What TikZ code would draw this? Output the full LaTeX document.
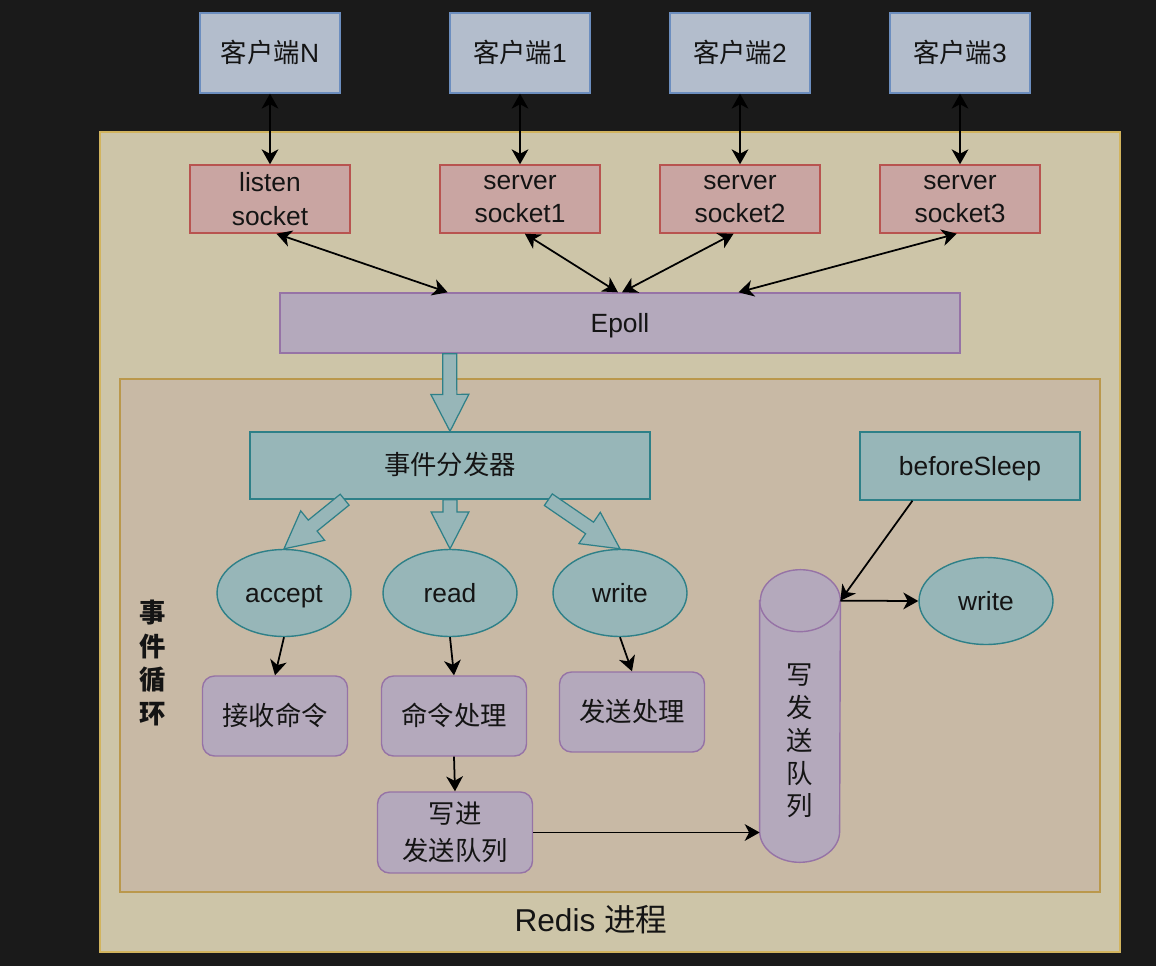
\documentclass[tikz,border=0pt]{standalone}
\usepackage{fontspec}
\setmainfont{Liberation Sans}
\newfontfamily\cjk{Noto Sans CJK SC}
\usetikzlibrary{calc,arrows.meta,shapes.geometric}
\newcommand\zh[1]{{\cjk #1}}
\definecolor{bgdark}{HTML}{1A1A1A}
\definecolor{redisfill}{HTML}{CDC5A8}
\definecolor{redisline}{HTML}{D2B45E}
\definecolor{loopfill}{HTML}{C8B9A5}
\definecolor{loopline}{HTML}{BA984C}
\definecolor{clientfill}{HTML}{B3BDCC}
\definecolor{clientline}{HTML}{6C8EBF}
\definecolor{sockfill}{HTML}{C9A5A2}
\definecolor{sockline}{HTML}{B85450}
\definecolor{purpfill}{HTML}{B4A9BC}
\definecolor{purpline}{HTML}{9673A6}
\definecolor{tealfill}{HTML}{97B6B8}
\definecolor{tealline}{HTML}{2E8088}
\definecolor{txt}{HTML}{141414}
\newcommand\fatarrow[2]{%
  \coordinate (fac) at ($(#2)!21pt!(#1)$);
  \filldraw[fat] ($(#1)!4pt!90:(#2)$) -- ($(fac)!4pt!90:(#2)$) -- ($(fac)!10.8pt!90:(#2)$)
    -- (#2) -- ($(fac)!10.8pt!-90:(#2)$) -- ($(fac)!4pt!-90:(#2)$) -- ($(#1)!4pt!-90:(#2)$) -- cycle;}
\begin{document}
\begin{tikzpicture}[x=0.02cm,y=-0.02cm,
  every node/.style={text=txt, font=\fontsize{15}{19}\selectfont, inner sep=0pt},
  one/.style={text height=10.5pt, text depth=0pt},
  client/.style={one, draw=clientline, fill=clientfill, line width=0.8pt, minimum width=2.8cm, minimum height=1.6cm},
  sock/.style={draw=sockline, fill=sockfill, line width=0.8pt, minimum width=3.2cm, minimum height=1.36cm, align=center},
  purp/.style={draw=purpline, fill=purpfill, line width=0.8pt},
  pbox/.style={purp, rounded corners=0.24cm, minimum width=2.9cm, minimum height=1.6cm, align=center},
  teal/.style={draw=tealline, fill=tealfill, line width=0.8pt},
  oval/.style={one, teal, ellipse, minimum width=2.68cm, minimum height=1.74cm},
  fat/.style={draw=tealline, fill=tealfill, line width=0.7pt, line join=miter},
  conn/.style={draw=black, line width=1pt, -{Stealth[length=8.5pt,width=9.5pt,inset=2.5pt]}},
  dconn/.style={draw=black, line width=1pt, {Stealth[length=8.5pt,width=9.5pt,inset=2.5pt]}-{Stealth[length=8.5pt,width=9.5pt,inset=2.5pt]}}
]
\fill[bgdark] (0,0) rectangle (1156,966);
% containers
\node[draw=redisline, fill=redisfill, line width=0.8pt, minimum width=20.4cm, minimum height=16.4cm] (redis) at (610,542) {};
\node[draw=loopline, fill=loopfill, line width=1.1pt, minimum width=19.6cm, minimum height=10.26cm] (loop) at (610,635.5) {};
\node[text height=12.6pt, text depth=0pt, font=\fontsize{18}{22}\selectfont] (rlabel) at (591,920) {Redis \zh{进程}};
\node[font=\cjk\bfseries\fontsize{15}{19.3}\selectfont, align=center] (evl) at (153,663) {事\\件\\循\\环};
% clients
\node[client] (cN) at (270,53) {\zh{客户端}N};
\node[client] (c1) at (520,53) {\zh{客户端}1};
\node[client] (c2) at (740,53) {\zh{客户端}2};
\node[client] (c3) at (960,53) {\zh{客户端}3};
% sockets
\node[sock] (sN) at (270,199) {listen\\socket};
\node[sock] (s1) at (520,199) {server\\socket1};
\node[sock] (s2) at (740,199) {server\\socket2};
\node[sock] (s3) at (960,199) {server\\socket3};
% epoll
\node[one, purp, minimum width=13.6cm, minimum height=1.2cm] (ep) at (620,323) {Epoll};
% dispatcher and beforeSleep
\node[one, teal, minimum width=8cm, minimum height=1.34cm] (disp) at (450,465.5) {\zh{事件分发器}};
\node[one, teal, minimum width=4.4cm, minimum height=1.36cm] (bs) at (970,466) {beforeSleep};
% ellipses
\node[oval] (acc) at (284,593) {accept};
\node[oval] (rd) at (450,593) {read};
\node[oval] (wr) at (620,593) {write};
\node[oval] (wr2) at (986,601) {write};
% boxes
\node[pbox, one] (recv) at (275,716) {\zh{接收命令}};
\node[pbox, one] (cmd) at (454,716) {\zh{命令处理}};
\node[pbox, one] (send) at (632,712) {\zh{发送处理}};
\node[pbox, minimum width=3.1cm, minimum height=1.62cm, font=\cjk\fontsize{15}{21}\selectfont] (wq) at (455,832.5) {写进\\发送队列};
% cylinder
\node[minimum width=1.6cm, minimum height=5.84cm] (q) at (800,716) {};
\draw[purp] ([yshift=-0.62cm]q.north west) -- ([yshift=0.62cm]q.south west)
  arc[start angle=180, end angle=360, x radius=0.8cm, y radius=0.62cm]
  -- ([yshift=-0.62cm]q.north east)
  arc[start angle=0, end angle=180, x radius=0.8cm, y radius=0.62cm] -- cycle;
\draw[draw=purpline, line width=0.8pt] ([yshift=-0.62cm]q.north west)
  arc[start angle=180, end angle=360, x radius=0.8cm, y radius=0.62cm];
\node[font=\cjk\fontsize{15}{18.7}\selectfont, align=center] (qtext) at (800,741) {写\\发\\送\\队\\列};
% client <-> socket
\draw[dconn] (cN.south) -- (sN.north);
\draw[dconn] (c1.south) -- (s1.north);
\draw[dconn] (c2.south) -- (s2.north);
\draw[dconn] (c3.south) -- (s3.north);
% socket <-> epoll
\coordinate (eN) at ($(ep.north west)!0.247!(ep.north east)$);
\coordinate (e1) at ($(ep.north west)!0.497!(ep.north east)$);
\coordinate (e2) at ($(ep.north west)!0.503!(ep.north east)$);
\coordinate (e3) at ($(ep.north west)!0.674!(ep.north east)$);
\coordinate (sNb) at ($(sN.south west)!0.54!(sN.south east)$);
\coordinate (s1b) at ($(s1.south west)!0.53!(s1.south east)$);
\coordinate (s2b) at ($(s2.south west)!0.46!(s2.south east)$);
\coordinate (s3b) at ($(s3.south west)!0.48!(s3.south east)$);
\draw[dconn] (sNb) -- (eN);
\draw[dconn] (s1b) -- (e1);
\draw[dconn] (s2b) -- (e2);
\draw[dconn] (s3b) -- (e3);
% fat arrows
\coordinate (epb) at ($(ep.south west)!0.25!(ep.south east)$);
\fatarrow{epb}{disp.north}
\coordinate (dl) at ($(disp.south west)!0.2375!(disp.south east)$);
\coordinate (dr) at ($(disp.south west)!0.745!(disp.south east)$);
\fatarrow{dl}{acc.north}
\fatarrow{disp.south}{rd.north}
\fatarrow{dr}{wr.north}
% thin arrows
\draw[conn] (acc.south) -- (recv.north);
\draw[conn] (rd.south) -- (cmd.north);
\draw[conn] (wr.south) -- (send.north);
\draw[conn] (cmd.south) -- (wq.north);
\draw[conn] (wq.east) -- (wq.east -| q.west);
\coordinate (bsb) at ($(bs.south west)!0.24!(bs.south east)$);
\coordinate (qtop) at ([yshift=-0.62cm]q.north east);
\draw[conn] (bsb) -- (qtop);
\draw[conn] (qtop) -- (wr2.west);
\end{tikzpicture}
\end{document}
